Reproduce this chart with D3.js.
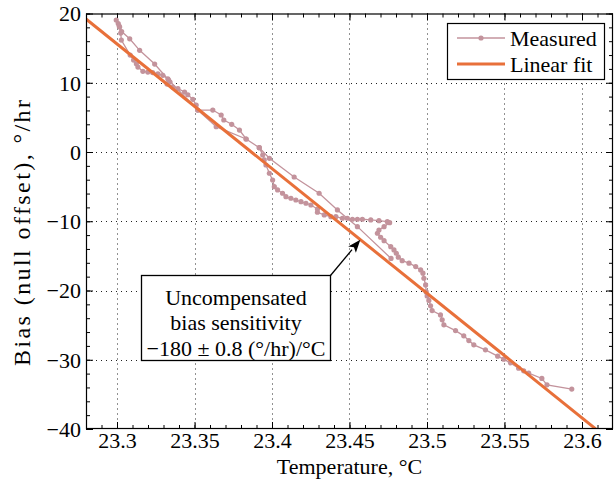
<!DOCTYPE html>
<html>
<head>
<meta charset="utf-8">
<script src="https://cdn.jsdelivr.net/npm/d3@7"></script>
<style>
  html, body { margin: 0; padding: 0; background: #fff; }
  svg { display: block; }
  text { font-family: "Liberation Serif", "Times New Roman", serif; fill: #000; }
</style>
</head>
<body>
<svg id="chart" width="615" height="482"></svg>
<script>
// Measured bias vs. temperature (time order of the recording)
const temperature = [
  23.4768, 23.4551, 23.4422, 23.4304, 23.4143, 23.3983, 23.3918, 23.3833, 23.3640, 23.3521,
  23.3333, 23.3243, 23.3146, 23.3082, 23.3030, 23.3017, 23.3008, 23.2995, 23.3014, 23.3024,
  23.3028, 23.3085, 23.3107, 23.3125, 23.3135, 23.3167, 23.3199, 23.3230, 23.3264, 23.3296,
  23.3328, 23.3342, 23.3323, 23.3360, 23.3393, 23.3436, 23.3457, 23.3489, 23.3511, 23.3521,
  23.3618, 23.3672, 23.3689, 23.3740, 23.3790, 23.3833, 23.3918, 23.3940, 23.3950, 23.3961,
  23.3983, 23.4004, 23.4015, 23.4036, 23.4068, 23.4090, 23.4122, 23.4154, 23.4187, 23.4219,
  23.4251, 23.4293, 23.4293, 23.4337, 23.4380, 23.4412, 23.4454, 23.4486, 23.4519, 23.4551,
  23.4583, 23.4637, 23.4690, 23.4744, 23.4759, 23.4723, 23.4690, 23.4680, 23.4701, 23.4723,
  23.4766, 23.4787, 23.4802, 23.4815, 23.4840, 23.4884, 23.4927, 23.4959, 23.4974, 23.4980,
  23.4991, 23.4995, 23.5001, 23.5012, 23.5023, 23.5033, 23.5087, 23.5098, 23.5109, 23.5184,
  23.5237, 23.5270, 23.5302, 23.5377, 23.5456, 23.5495, 23.5538, 23.5591, 23.5624, 23.5656,
  23.5741, 23.5774, 23.5934
];
const bias = [
  -15.37, -10.78, -8.37, -5.96, -3.61, -0.91, 0.62, 1.88, 3.65, 6.06,
  10.39, 12.70, 14.68, 16.35, 17.39, 18.04, 18.54, 19.05, 18.18, 17.17,
  16.16, 14.00, 13.28, 12.74, 12.27, 11.65, 11.54, 11.47, 11.30, 11.07,
  10.58, 10.10, 9.81, 9.38, 9.16, 8.66, 8.27, 7.60, 6.78, 6.06,
  6.06, 5.34, 4.62, 4.00, 3.17, 1.88, 0.62, -0.43, -1.15, -1.88,
  -3.07, -4.04, -5.01, -5.48, -5.96, -6.45, -6.68, -6.93, -7.17, -7.40,
  -7.65, -8.23, -8.70, -9.09, -9.34, -9.34, -9.57, -9.57, -9.71, -9.71,
  -9.71, -9.81, -9.91, -10.06, -10.20, -10.78, -11.26, -11.73, -12.31, -12.80,
  -13.67, -14.14, -14.62, -15.19, -15.69, -16.06, -16.55, -17.03, -17.50, -18.23,
  -19.19, -20.20, -20.78, -21.43, -22.22, -22.90, -23.52, -24.24, -24.96, -25.79,
  -26.55, -27.23, -27.85, -28.57, -29.48, -29.91, -30.45, -31.21, -31.60, -31.93,
  -32.70, -33.62, -34.24
];

// Linear fit: slope in (°/hr)/°C and a point the line passes through
const fitSlope = -180;
const fitAnchorT = 23.44;
const fitAnchorB = -9.6;

// Axis ticks
const xTicks = [23.3, 23.35, 23.4, 23.45, 23.5, 23.55, 23.6];
const xTickLabels = ["23.3", "23.35", "23.4", "23.45", "23.5", "23.55", "23.6"];
const yTicks = [-40, -30, -20, -10, 0, 10, 20];
const yTickLabels = ["\u221240", "\u221230", "\u221220", "\u221210", "0", "10", "20"];

const seriesNames = ["Measured", "Linear fit"];
const annotationLines = ["Uncompensated", "bias sensitivity", "\u2212180 \u00b1 0.8 (\u00b0/hr)/\u00b0C"];
const annotationTargetT = 23.457;

const measuredColor = "#c3939c";
const fitColor = "#e8703a";

const margin = { left: 86, right: 2, top: 13.5, bottom: 53 };
const W = 615, H = 482;
const svg = d3.select("#chart");

const x = d3.scaleLinear().domain([23.28, 23.62]).range([margin.left, W - margin.right]);
const y = d3.scaleLinear().domain([-40, 20]).range([H - margin.bottom, margin.top]);
const [x0, x1] = x.range();
const [y0, y1] = [y.range()[1], y.range()[0]];

svg.append("defs").append("clipPath").attr("id", "plotClip")
  .append("rect").attr("x", x0).attr("y", y0).attr("width", x1 - x0).attr("height", y1 - y0);

// dotted grid at major ticks
const grid = svg.append("g").attr("stroke", "#222").attr("stroke-width", 1).attr("stroke-dasharray", "1,4");
grid.selectAll(".gx").data(xTicks).join("line")
  .attr("x1", d => Math.round(x(d)) + 0.5).attr("x2", d => Math.round(x(d)) + 0.5)
  .attr("y1", y0).attr("y2", y1);
grid.selectAll(".gy").data(yTicks.slice(1, -1)).join("line")
  .attr("y1", d => Math.round(y(d)) + 0.5).attr("y2", d => Math.round(y(d)) + 0.5)
  .attr("x1", x0).attr("x2", x1);

// axes with inward ticks on all four sides
const xMinor = d3.range(23.29, 23.6151, 0.01).map(v => +v.toFixed(2));
const yMinor = d3.range(-40, 20.01, 2);

function tickAxis(axisGen, transform) {
  const g = svg.append("g").attr("transform", transform).call(axisGen);
  g.select(".domain").remove();
  g.selectAll("text").remove();
  g.selectAll("line").attr("stroke", "#000");
  return g;
}
tickAxis(d3.axisTop(x).tickValues(xMinor).tickSize(4), `translate(0,${y1})`);
tickAxis(d3.axisTop(x).tickValues(xTicks).tickSize(7), `translate(0,${y1})`);
tickAxis(d3.axisBottom(x).tickValues(xMinor).tickSize(4), `translate(0,${y0})`);
tickAxis(d3.axisBottom(x).tickValues(xTicks).tickSize(7), `translate(0,${y0})`);
tickAxis(d3.axisRight(y).tickValues(yMinor).tickSize(4), `translate(${x0},0)`);
tickAxis(d3.axisRight(y).tickValues(yTicks).tickSize(7), `translate(${x0},0)`);
tickAxis(d3.axisLeft(y).tickValues(yMinor).tickSize(4), `translate(${x1},0)`);
tickAxis(d3.axisLeft(y).tickValues(yTicks).tickSize(7), `translate(${x1},0)`);

// tick labels
const xLab = d3.axisBottom(x).tickValues(xTicks).tickSize(0).tickPadding(0)
  .tickFormat((d, i) => xTickLabels[i]);
const gxl = svg.append("g").attr("transform", `translate(0,${y1 + 19})`).call(xLab);
gxl.select(".domain").remove();
gxl.selectAll("text").attr("font-size", 22).attr("font-family", "Liberation Serif").attr("dy", "0").attr("y", 0)
  .attr("dominant-baseline", "auto");

const yLab = d3.axisLeft(y).tickValues(yTicks).tickSize(0).tickPadding(0)
  .tickFormat((d, i) => yTickLabels[i]);
const gyl = svg.append("g").attr("transform", `translate(${x0 - 5},0)`).call(yLab);
gyl.select(".domain").remove();
gyl.selectAll("text").attr("font-size", 22).attr("font-family", "Liberation Serif").attr("dy", "0.33em");

// axis titles
svg.append("text").attr("x", (x0 + x1) / 2).attr("y", 474).attr("text-anchor", "middle")
  .attr("font-size", 22).text("Temperature, \u00b0C");
svg.append("text").attr("transform", `translate(30,233) rotate(-90)`)
  .attr("text-anchor", "middle").attr("font-size", 24)
  .attr("textLength", 266).attr("lengthAdjust", "spacing")
  .text("Bias (null offset), \u00b0/hr");

const plot = svg.append("g").attr("clip-path", "url(#plotClip)");

// measured series
const pts = temperature.map((t, i) => [t, bias[i]]);
const line = d3.line().x(d => x(d[0])).y(d => y(d[1]));
plot.append("path").datum(pts).attr("d", line)
  .attr("fill", "none").attr("stroke", measuredColor).attr("stroke-width", 1.3);
plot.selectAll(".m").data(pts).join("circle")
  .attr("cx", d => x(d[0])).attr("cy", d => y(d[1])).attr("r", 2.6).attr("fill", measuredColor);

// linear fit
const fit = t => fitAnchorB + fitSlope * (t - fitAnchorT);
const fitDomain = x.domain();
plot.append("path").datum(fitDomain.map(t => [t, fit(t)])).attr("d", line)
  .attr("fill", "none").attr("stroke", fitColor).attr("stroke-width", 3);

// plot frame
svg.append("rect").attr("x", x0 + 0.5).attr("y", y0 + 0.5).attr("width", x1 - x0 - 1).attr("height", y1 - y0 - 1)
  .attr("fill", "none").attr("stroke", "#000").attr("stroke-width", 1.2);

// legend
const lg = svg.append("g");
lg.append("rect").attr("x", 447.5).attr("y", 23.5).attr("width", 157).attr("height", 56)
  .attr("fill", "#fff").attr("stroke", "#000").attr("stroke-width", 1.2);
lg.append("line").attr("x1", 457).attr("x2", 505).attr("y1", 38).attr("y2", 38)
  .attr("stroke", measuredColor).attr("stroke-width", 1.3);
lg.append("circle").attr("cx", 481).attr("cy", 38).attr("r", 2.6).attr("fill", measuredColor);
lg.append("text").attr("x", 510).attr("y", 45.5).attr("font-size", 22).text(seriesNames[0]);
lg.append("line").attr("x1", 457).attr("x2", 505).attr("y1", 64).attr("y2", 64)
  .attr("stroke", fitColor).attr("stroke-width", 3);
lg.append("text").attr("x", 510).attr("y", 71.5).attr("font-size", 22).text(seriesNames[1]);

// annotation box with arrow to the fit line
const ann = svg.append("g");
const box = { x: 141.5, y: 275.5, w: 189, h: 85 };
ann.append("rect").attr("x", box.x).attr("y", box.y).attr("width", box.w).attr("height", box.h)
  .attr("fill", "#fff").attr("stroke", "#000").attr("stroke-width", 1.3);
annotationLines.forEach((s, i) => {
  ann.append("text").attr("x", box.x + box.w / 2).attr("y", box.y + 29 + i * 25.5)
    .attr("text-anchor", "middle").attr("font-size", 22).text(s);
});
const tipX = x(annotationTargetT), tipY = y(fit(annotationTargetT));
const tailX = box.x + box.w, tailY = box.y;
const ang = Math.atan2(tipY - tailY, tipX - tailX);
const headLen = 13, headHalf = 5;
const bx = tipX - headLen * Math.cos(ang), by = tipY - headLen * Math.sin(ang);
ann.append("line").attr("x1", tailX).attr("y1", tailY).attr("x2", bx).attr("y2", by)
  .attr("stroke", "#000").attr("stroke-width", 1.3);
ann.append("path")
  .attr("d", `M${tipX},${tipY} L${bx + headHalf * Math.sin(ang)},${by - headHalf * Math.cos(ang)} L${bx + 3 * Math.cos(ang)},${by + 3 * Math.sin(ang)} L${bx - headHalf * Math.sin(ang)},${by + headHalf * Math.cos(ang)} Z`)
  .attr("fill", "#000");
</script>
</body>
</html>
